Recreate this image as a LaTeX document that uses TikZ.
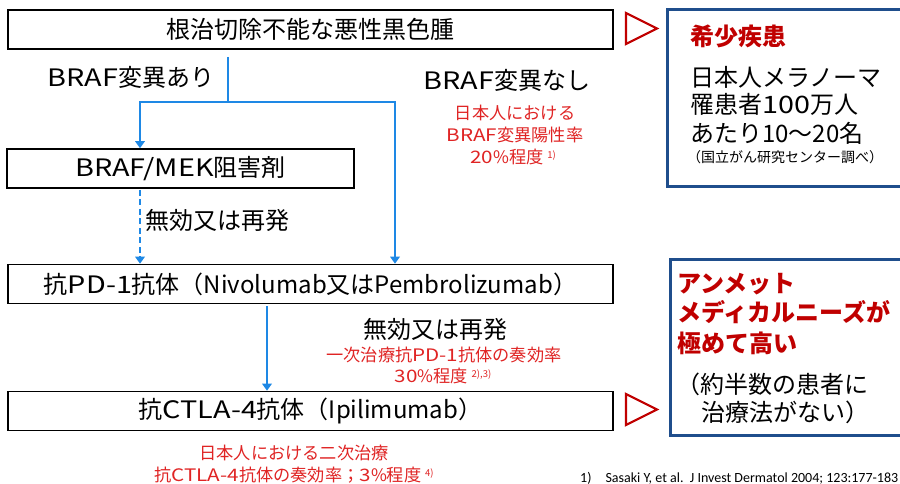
\documentclass[tikz,border=0pt]{standalone}
\usepackage{fontspec}
\setmainfont{Noto Sans CJK JP}
\newfontfamily\lat{Noto Sans CJK JP}[FakeStretch=1.2]
\newfontfamily\fnfont{Carlito}
\usetikzlibrary{arrows.meta}
\definecolor{connc}{HTML}{1E88E5}
\definecolor{tric}{HTML}{C00000}
\definecolor{redt}{HTML}{E02424}
\definecolor{bluebox}{HTML}{1F4E8C}
\tikzset{
  box/.style={draw=black, line width=1.6pt, inner sep=0pt, minimum width=605pt, minimum height=39pt, font=\fontsize{24}{28}\selectfont},
  big/.style={font=\fontsize{24}{28}\selectfont, inner sep=0pt},
  redsmall/.style={font=\fontsize{17.2}{20}\selectfont, text=redt, inner sep=0pt},
  redbold/.style={font=\fontsize{24}{28}\selectfont\bfseries, text=tric, inner sep=0pt, anchor=west},
  flow/.style={draw=connc, line width=2.9pt},
  flowarrow/.style={flow, -{Triangle[length=7pt,width=9.5pt]}},
  tri/.style={draw=tric, line width=2.2pt, line join=miter},
  panel/.style={draw=bluebox, line width=3pt},
}
\newcommand{\supn}[1]{\raisebox{0.55ex}{\fontsize{9.5}{9.5}\selectfont #1}}
\begin{document}
\begin{tikzpicture}[x=1pt,y=-1pt]
\useasboundingbox (0,0) rectangle (900,484);
\fill[white] (0,0) rectangle (900,484);

% main boxes
\node[box] (top) at (310.5,29.5) {根治切除不能な悪性黒色腫};
\node[box, minimum width=347pt] (braf) at (180.5,168.5) {{\lat BRAF/MEK}阻害剤};
\node[box] (pd) at (310.5,284) {抗{\lat PD-1}抗体（Nivolumab又はPembrolizumab）};
\node[box] (ctla) at (310.5,411) {抗{\lat CTLA-4}抗体（Ipilimumab）};

% connectors
\coordinate (s0) at (228,57);
\coordinate (j) at (228,102);
\coordinate (jl) at (140,102);
\coordinate (jr) at (395,102);
\draw[flow] (s0) -- (j);
\draw[flow, line cap=rect] (jl) -- (jr);
\draw[flowarrow] (jl) -- (jl |- braf.north);
\draw[flowarrow] (jr) -- (jr |- pd.north);
\draw[flowarrow, dash pattern=on 6pt off 3.5pt] ([yshift=-1pt]jl |- braf.south) -- (jl |- pd.north);
\coordinate (p0) at (267,306);
\draw[flowarrow] (p0) -- (p0 |- ctla.north);

% labels
\node[big] (mut) at (131,77) {{\lat BRAF}変異あり};
\node[big] (nomut) at (507,80) {{\lat BRAF}変異なし};
\node[redsmall] (r1) at (515,113) {日本人における};
\node[redsmall] (r2) at (515,135) {{\lat BRAF}変異陽性率};
\node[redsmall] (r3) at (513,157) {{\lat 20}\%程度 \supn{1)}};
\node[big] (fail1) at (217,220) {無効又は再発};
\node[big] (fail2) at (435,329) {無効又は再発};
\node[redsmall] (r4) at (444,355) {一次治療抗{\lat PD-1}抗体の奏効率};
\node[redsmall] (r5) at (443,376) {{\lat 30}\%程度 \supn{2),3)}};
\node[redsmall] (r6) at (294,453) {日本人における二次治療};
\node[redsmall] (r7) at (294,475) {抗{\lat CTLA-4}抗体の奏効率；{\lat 3}\%程度 \supn{4)}};

% triangles
\draw[tri] (626,13) -- (657,28.5) -- (626,44) -- cycle;
\draw[tri] (626,394) -- (657,409.5) -- (626,425) -- cycle;

% right panels
\draw[panel] (902,10) -- (667,10) -- (667,187) -- (902,187);
\draw[panel] (902,259) -- (670,259) -- (670,435) -- (902,435);

\node[redbold] (rare) at (690,36) {希少疾患};
\node[big, anchor=west] (p1) at (690,77) {日本人メラノーマ};
\node[big, anchor=west] (p2) at (690,104) {罹患者{\lat 100}万人};
\node[big, anchor=west] (p3) at (690,133) {あたり10～20名};
\node[font=\fontsize{14}{16}\selectfont, inner sep=0pt] (p4) at (785,157) {（国立がん研究センター調べ）};

\node[redbold] (u1) at (677,284) {アンメット};
\node[redbold] (u2) at (677,312) {メディカルニーズが};
\node[redbold] (u3) at (677,343) {極めて高い};
\node[big, anchor=west] (u4) at (676,384) {（約半数の患者に};
\node[big, anchor=west] (u5) at (701,412) {治療法がない）};

\node[font=\fnfont\fontsize{14}{16}\selectfont, anchor=west, inner sep=0pt] (fn) at (580,478) {1)\hspace{14pt}Sasaki Y, et al.\ \ J Invest Dermatol 2004; 123:177-183};
\end{tikzpicture}
\end{document}
